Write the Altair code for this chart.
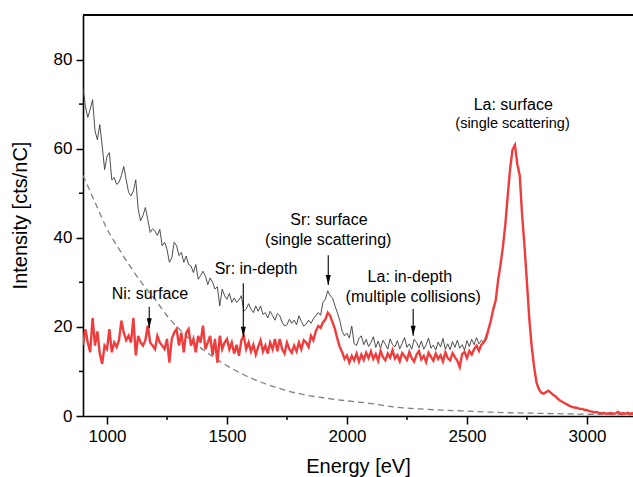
import altair as alt
import pandas as pd

# ---- spectra (intensity in cts/nC, sampled every 10 eV) ----
energy = list(range(900, 3201, 10))

# measured spectrum, 900-2590 eV
total_low = [
    73.5, 69.5, 67.0, 68.8, 71.0, 64.0, 62.0, 65.4, 60.6, 55.3,
    58.3, 59.1, 53.0, 53.5, 52.0, 52.4, 54.0, 56.0, 53.0, 50.2,
    49.4, 50.5, 53.0, 46.4, 43.8, 45.0, 46.8, 44.1, 41.2, 42.0,
    41.5, 40.5, 41.9, 38.2, 39.0, 37.4, 34.5, 35.5, 39.0, 38.2,
    36.0, 36.7, 34.5, 35.9, 34.0, 33.7, 32.2, 34.0, 30.7, 31.5,
    32.5, 31.4, 29.5, 31.0, 30.0, 28.5, 29.0, 24.7, 28.5, 27.0,
    26.2, 27.5, 25.5, 26.5, 25.5, 26.0, 27.0, 23.5, 24.0, 25.2,
    24.0, 23.2, 24.7, 23.5, 24.7, 22.8, 23.2, 22.0, 23.5, 22.5,
    21.5, 23.0, 22.5, 21.0, 20.2, 20.5, 21.7, 20.8, 21.5, 20.5,
    22.5, 21.2, 20.2, 20.6, 21.5, 20.8, 21.8, 22.5, 23.2, 22.6,
    25.5, 26.2, 28.1, 27.0, 26.5, 24.7, 23.2, 21.5, 19.0, 18.0,
    18.6, 17.5, 20.2, 16.2, 15.8, 17.4, 18.0, 16.0, 17.2, 15.6,
    16.5, 17.8, 15.4, 16.8, 15.2, 17.0, 16.1, 15.0, 17.3, 16.0,
    15.5, 16.9, 15.1, 16.3, 17.6, 15.4, 16.2, 15.0, 17.2, 16.5,
    15.3, 16.8, 15.0, 16.0, 17.5, 15.2, 15.9, 14.8, 16.6, 15.5,
    17.4, 15.0, 16.2, 14.9, 16.7, 15.4, 17.0, 15.2, 16.0, 14.8,
    16.9, 15.6, 17.2, 16.0, 17.6, 16.2, 17.0, 16.5, 18.2, 19.5,
]

# background-corrected spectrum, 900-2590 eV
corrected_low = [
    16.0, 19.5, 16.5, 14.3, 22.0, 15.8, 19.0, 14.0, 11.7, 15.8,
    15.0, 19.5, 14.3, 16.5, 15.5, 17.0, 21.4, 18.7, 17.0, 18.0,
    16.5, 22.0, 13.6, 18.0, 16.5, 15.8, 17.0, 20.3, 16.5, 15.8,
    15.0, 18.0, 16.5, 15.8, 15.0, 17.3, 12.0, 17.3, 18.7, 19.5,
    15.8, 18.7, 14.3, 18.7, 19.5, 15.8, 17.3, 14.3, 18.0, 16.5,
    20.3, 15.0, 16.5, 18.0, 13.6, 17.3, 12.0, 18.0, 15.0, 16.5,
    17.3, 15.0, 16.5, 14.0, 16.0, 13.5, 17.0, 18.0, 15.0, 16.5,
    14.5, 16.0, 13.8, 15.5, 17.0, 14.5, 15.8, 14.0, 16.5, 15.0,
    17.3, 14.5, 17.3, 15.0, 14.0, 16.5, 15.0, 14.2, 15.8, 14.5,
    16.5, 15.0, 17.0, 16.5, 15.5, 18.0, 17.0, 19.0, 20.2, 19.8,
    21.0, 21.7, 23.2, 22.5, 21.0, 19.5, 17.3, 15.5, 14.3, 12.8,
    13.6, 12.0, 13.5, 12.5, 14.0, 12.2, 13.8, 12.6, 14.2, 13.0,
    14.5, 12.8, 13.9, 12.4, 14.6, 13.2, 12.5, 14.0, 13.1, 14.8,
    12.9, 13.7, 12.3, 14.1, 13.4, 12.6, 14.4, 13.0, 12.2, 13.8,
    14.6, 12.7, 13.5, 12.1, 14.2, 13.3, 12.4, 14.0, 12.8, 13.6,
    12.2, 14.3, 13.0, 12.5, 14.1, 13.2, 12.4, 11.0, 13.9, 14.4,
    13.0, 14.6, 13.8, 15.0, 15.8, 14.6, 16.0, 16.5, 17.4, 19.5,
]

# La peak and high-energy tail, 2600-3200 eV (identical in both spectra)
la_peak = [
    21.5, 24.0, 26.0, 30.5, 34.0, 38.0, 43.0, 49.5, 55.5, 59.8,
    60.8, 56.5, 54.0, 45.0, 38.0, 30.0, 21.7, 15.5, 11.0, 7.5,
    6.0, 5.2, 5.0, 5.4, 5.7, 5.2, 4.7, 4.4, 3.8, 3.4,
    3.1, 2.8, 2.5, 2.2, 2.0, 1.9, 1.8, 1.6, 1.6, 1.4,
    1.3, 1.1, 1.0, 0.8, 0.9, 0.7, 0.6, 0.7, 0.5, 0.6,
    0.7, 0.5, 0.6, 0.9, 0.5, 0.6, 0.5, 0.7, 0.5, 0.6, 0.5,
]

# smooth background (dashed)
bg_energy = [900, 950, 1000, 1050, 1100, 1150, 1200, 1250, 1300, 1350,
             1400, 1450, 1500, 1600, 1700, 1800, 1900, 2000, 2100, 2200,
             2300, 2400, 2500, 2600, 2800, 3000, 3200]
bg_intensity = [54.0, 48.0, 42.0, 37.5, 33.3, 29.5, 26.2, 22.5, 19.6, 17.0,
                14.9, 13.0, 11.3, 8.5, 6.5, 5.0, 4.1, 3.4, 2.8, 2.0,
                1.6, 1.3, 1.1, 0.85, 0.6, 0.4, 0.3]

# annotations
note_text = ["La: surface", "(single scattering)", "Sr: surface", "(single scattering)",
             "Sr: in-depth", "Ni: surface", "La: in-depth", "(multiple collisions)"]
note_energy = [2693, 2690, 1925, 1922, 1621, 1179, 2262, 2276]
note_value = [69.8, 65.5, 44.0, 39.6, 33.0, 27.3, 31.1, 26.8]
note_size = [16, 14.5, 16, 16, 16, 16, 16, 16]

arrow_energy = [1922, 1568, 1176, 2276]
arrow_start = [36.1, 29.8, 24.5, 24.0]
arrow_tip = [29.4, 17.8, 19.7, 18.0]

x_major = [1000, 1500, 2000, 2500, 3000]
x_minor = [1250, 1750, 2250, 2750]
y_major = [0, 20, 40, 60, 80]
y_minor = [10, 30, 50, 70]

# ---- tables ----
spectra = pd.DataFrame({
    "energy": energy,
    "total": total_low + la_peak,
    "corrected": corrected_low + la_peak,
})
background = pd.DataFrame({"energy": bg_energy, "intensity": bg_intensity})
notes = pd.DataFrame({"text": note_text, "energy": note_energy,
                      "value": note_value, "size": note_size})
arrows = pd.DataFrame({"energy": arrow_energy, "start": arrow_start, "tip": arrow_tip})
xminor = pd.DataFrame({"energy": x_minor})
yminor = pd.DataFrame({"value": y_minor})

W, H = 550, 401
FONT = "Liberation Sans"

x_scale = alt.Scale(domain=[900, 3192], nice=False, zero=False)
y_scale = alt.Scale(domain=[0, 90], nice=False, zero=True)

x_axis = alt.Axis(values=x_major, title="Energy [eV]", format="d",
                  tickSize=8, labelPadding=4, titleX=W / 2, titleY=50,
                  titleBaseline="middle", titleAlign="center")
y_axis = alt.Axis(values=y_major, title="Intensity [cts/nC]",
                  tickSize=7, labelPadding=4, titleX=-63, titleY=200,
                  titleBaseline="middle", titleAlign="center", titleAngle=270)


def X(field):
    return alt.X(field, type="quantitative", scale=x_scale, axis=x_axis)


def Y(field):
    return alt.Y(field, type="quantitative", scale=y_scale, axis=y_axis)


total_line = alt.Chart(spectra).mark_line(
    color="#3a3a3a", strokeWidth=0.9, clip=True
).encode(x=X("energy"), y=Y("total"))

corrected_line = alt.Chart(spectra).mark_line(
    color="#ef3d3d", strokeWidth=2.4, clip=True
).encode(x=X("energy"), y=Y("corrected"))

bg_line = alt.Chart(background).mark_line(
    color="#808080", strokeWidth=1.3, strokeDash=[6, 4],
    interpolate="monotone", clip=True
).encode(x=X("energy"), y=Y("intensity"))

labels = alt.Chart(notes).mark_text(
    font=FONT, color="black", align="center", baseline="middle"
).encode(x=X("energy"), y=Y("value"), text="text:N",
         size=alt.Size("size:Q", scale=None, legend=None))

arrow_shafts = alt.Chart(arrows).mark_rule(
    color="black", strokeWidth=1.1
).encode(x=X("energy"), y=Y("start"), y2="tip")

arrow_heads = alt.Chart(arrows).mark_point(
    shape="M-0.5,-2L0.5,-2L0,0Z", size=100, filled=True,
    color="black", opacity=1, strokeWidth=0
).encode(x=X("energy"), y=Y("tip"))

x_minor_ticks = alt.Chart(xminor).mark_rule(
    color="black", strokeWidth=1.5
).encode(x=X("energy"), y=alt.value(H), y2=alt.value(H + 4))

y_minor_ticks = alt.Chart(yminor).mark_rule(
    color="black", strokeWidth=1.5
).encode(y=Y("value"), x=alt.value(0), x2=alt.value(-4))

top_frame = alt.Chart(xminor).mark_rule(
    color="black", strokeWidth=1.6
).encode(x=alt.value(0), x2=alt.value(W + 5), y=alt.value(0))

chart = alt.layer(
    bg_line, total_line, corrected_line,
    arrow_shafts, arrow_heads, labels,
    x_minor_ticks, y_minor_ticks, top_frame,
).properties(
    width=W, height=H,
    autosize=alt.AutoSizeParams(type="none"),
    padding={"left": 83, "top": 15, "right": 0, "bottom": 61},
    background="white",
).configure_view(
    stroke=None
).configure_axis(
    grid=False,
    domainColor="black", domainWidth=1.6,
    tickColor="black", tickWidth=1.5,
    labelFont=FONT, labelFontSize=17, labelColor="black",
    titleFont=FONT, titleFontSize=20, titleFontWeight="normal", titleColor="black",
)

chart.save("out.html", embed_options={"renderer": "svg", "actions": False})
